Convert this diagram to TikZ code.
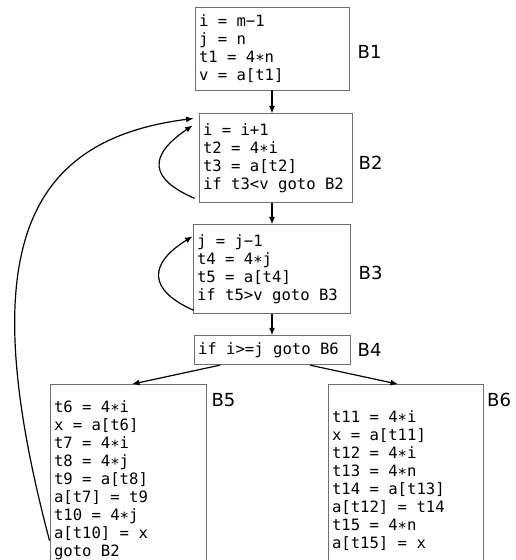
\documentclass[tikz,border=0pt]{standalone}
\usepackage{fontspec}
\usetikzlibrary{arrows.meta,positioning}
\newfontfamily\blockfont{DejaVu Sans Mono}
\newfontfamily\tagfont{DejaVu Sans}
\newcommand{\codesize}{\fontsize{15.6}{18}\selectfont}
\definecolor{boxline}{HTML}{707070}

\begin{document}
\begin{tikzpicture}[x=1pt, y=1pt, node distance=21pt,
  blk/.style={draw=boxline, line width=0.9pt, align=left, inner xsep=4pt, inner ysep=3pt,
    font=\blockfont\codesize, execute at begin node={\spaceskip=0pt\xspaceskip=0pt\relax}},
  tag/.style={font=\tagfont\fontsize{18}{18}\selectfont, inner sep=0pt, anchor=west},
  arr/.style={-{Latex[length=7.5pt,width=6pt]}, line width=1.2pt}]
\useasboundingbox (0,0) rectangle (516,-560);
\node[blk, text width=146pt, minimum height=83pt] (b1) at (272,-48.5) {i = m−1\\j = n\\t1 = 4∗n\\v = a[t1]};
\node[blk, text width=145pt, minimum height=89pt, below=23pt of b1, xshift=3.5pt] (b2) {i = i+1\\t2 = 4∗i\\t3 = a[t2]\\if t3<v goto B2};
\node[blk, text width=149pt, minimum height=89pt, below=of b2, xshift=-4pt] (b3) {j = j−1\\t4 = 4∗j\\t5 = a[t4]\\if t5>v goto B3};
\node[blk, text width=148pt, minimum height=29pt, below=of b3, xshift=0.5pt] (b4) {if i>=j goto B6};
\node[blk, text width=148pt, minimum height=192pt, below=19pt of b4, xshift=-144pt] (b5) {t6 = 4∗i\\x = a[t6]\\t7 = 4∗i\\t8 = 4∗j\\t9 = a[t8]\\a[t7] = t9\\t10 = 4∗j\\a[t10] = x\\goto B2};
\node[blk, text width=147pt, minimum height=192pt, below=19pt of b4, xshift=133.5pt] (b6) {t11 = 4∗i\\x = a[t11]\\t12 = 4∗i\\t13 = 4∗n\\t14 = a[t13]\\a[t12] = t14\\t15 = 4∗n\\a[t15] = x};
% block names
\node[tag] (t1) at ([xshift=8pt, yshift=-3.5pt]b1.east) {B1};
\node[tag] (t2) at ([xshift=6pt, yshift=-4.5pt]b2.east) {B2};
\node[tag] (t3) at ([xshift=8pt, yshift=-4pt]b3.east) {B3};
\node[tag] (t4) at ([xshift=7pt]b4.east) {B4};
\node[tag] (t5) at ([xshift=5pt, yshift=-16pt]b5.north east) {B5};
\node[tag] (t6) at ([xshift=3.5pt, yshift=-16pt]b6.north east) {B6};
% flow edges
\draw[arr] (b1.south) -- (b1.south |- b2.north);
\draw[arr] (b1.south |- b2.south) -- (b1.south |- b3.north);
\draw[arr] (b1.south |- b3.south) -- (b4.north);
\draw[arr] ([xshift=-52pt]b4.south) -- ([xshift=4pt]b5.north);
\draw[arr] ([xshift=38pt]b4.south) -- ([xshift=-7.5pt]b6.north);
% back edges
\draw[arr] ([shift={(-4pt,5pt)}]b2.south west) .. controls +(-46pt,20pt) and +(-44pt,-30pt) .. ([shift={(-6pt,-12pt)}]b2.north west);
\draw[arr] ([shift={(1pt,4pt)}]b3.south west) .. controls +(-45pt,20pt) and +(-45pt,-28pt) .. ([shift={(0pt,-12pt)}]b3.north west);
\draw[arr] ([yshift=-60pt]b5.west) .. controls +(-75pt,283pt) and +(-173pt,-22pt) .. ([shift={(-5pt,-5pt)}]b2.north west);
\end{tikzpicture}
\end{document}
